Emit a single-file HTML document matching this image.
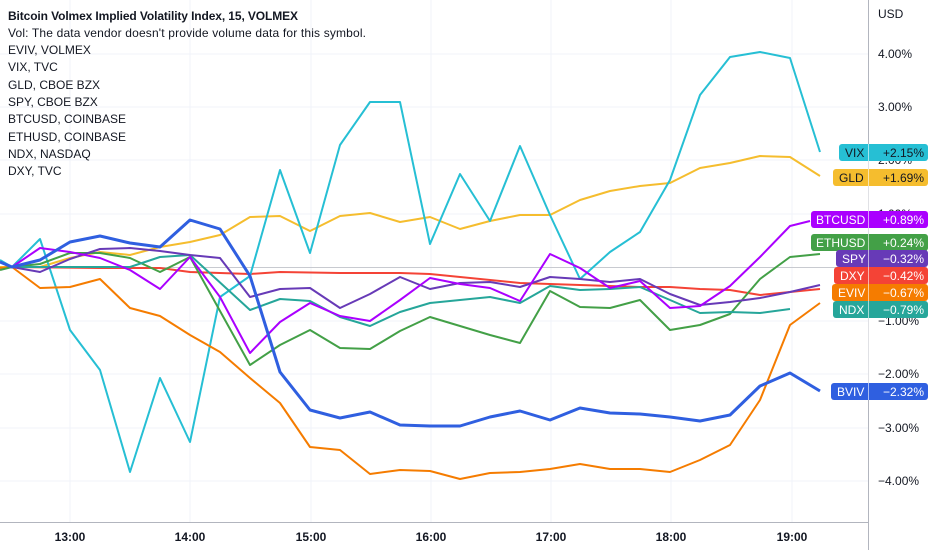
<!DOCTYPE html>
<html><head><meta charset="utf-8"><style>
html,body{margin:0;padding:0;background:#fff;}
svg{display:block;font-family:"Liberation Sans",sans-serif;}
</style></head><body>
<svg width="932" height="550" viewBox="0 0 932 550" xmlns="http://www.w3.org/2000/svg">
<rect width="932" height="550" fill="#fff"/>
<g stroke="#f0f3fa" stroke-width="1">
<line x1="0" y1="54" x2="868" y2="54"/><line x1="0" y1="107" x2="868" y2="107"/><line x1="0" y1="160" x2="868" y2="160"/><line x1="0" y1="214" x2="868" y2="214"/><line x1="0" y1="321" x2="868" y2="321"/><line x1="0" y1="374" x2="868" y2="374"/><line x1="0" y1="428" x2="868" y2="428"/><line x1="0" y1="481" x2="868" y2="481"/>
<line x1="70" y1="0" x2="70" y2="522"/><line x1="190" y1="0" x2="190" y2="522"/><line x1="311" y1="0" x2="311" y2="522"/><line x1="431" y1="0" x2="431" y2="522"/><line x1="551" y1="0" x2="551" y2="522"/><line x1="671" y1="0" x2="671" y2="522"/><line x1="792" y1="0" x2="792" y2="522"/>
</g>
<line x1="0" y1="267.5" x2="868" y2="267.5" stroke="#c8cad0" stroke-width="1"/>
<g fill="none" stroke-linejoin="round" stroke-width="2">
<polyline stroke="#f44336" points="0,268 12,267 100,268 160,268 190,272 250,274 280,272 340,273 400,273 430,274 520,283 640,287 670,287 700,289 730,290 760,295 790,292 820,289"/>
<polyline stroke="#f5bd2e" points="0,267 40,267 70,258 100,252 130,255 160,247 190,242 220,235 250,217 280,216 310,231 340,216 370,213 400,222 430,217 460,229 490,221 520,215 550,215 580,200 610,191 640,186 670,183 700,168 730,163 760,156 790,157 820,176"/>
<polyline stroke="#26bfd4" points="0,260 12,267 40,239 70,330 100,370 130,472 160,378 190,442 220,297 250,276 280,170 310,253 340,145 370,102 400,102 430,244 460,174 490,221 520,146 550,215 580,279 610,252 640,232 670,180 700,95 730,57 760,52 790,58 820,152"/>
<polyline stroke="#f57c00" points="0,268 12,267 40,288 70,287 100,279 130,308 160,316 190,335 220,352 250,378 280,403 310,447 340,450 370,474 400,470 430,471 460,479 490,473 520,472 550,469 580,464 610,469 640,469 670,472 700,460 730,445 760,400 790,325 820,303"/>
<polyline stroke="#43a047" points="0,270 12,267 40,264 70,253 100,253 130,258 160,272 190,257 250,365 280,345 310,330 340,348 370,349 400,331 430,317 460,326 490,335 520,343 550,291 580,307 610,308 640,300 670,330 700,325 730,314 760,279 790,257 820,254"/>
<polyline stroke="#26a69a" points="0,262 12,267 40,267 70,267 100,267 130,267 160,257 190,255 250,310 280,299 310,301 340,317 370,326 400,312 430,303 460,300 490,297 520,303 550,286 580,290 610,289 640,287 670,300 700,313 730,312 760,313 790,309"/>
<polyline stroke="#673ab7" points="0,262 12,267 40,272 70,259 100,249 130,248 160,251 190,255 220,258 250,297 280,289 310,288 340,308 370,294 400,277 430,289 460,283 490,282 520,287 550,277 580,279 610,282 640,279 670,294 700,305 730,302 760,298 790,292 820,285"/>
<polyline stroke="#aa00ff" points="0,262 12,267 40,248 70,252 100,258 130,270 160,289 190,257 220,297 250,353 280,322 310,303 340,316 370,321 400,300 430,278 460,284 490,288 520,301 550,254 580,268 610,288 640,281 670,308 700,306 730,286 760,257 790,226 810,221"/>
<polyline stroke="#2f5fe0" stroke-width="3" points="0,262 12,267 40,260 70,242 100,236 130,243 160,247 190,220 220,229 250,276 280,372 310,410 340,418 370,412 400,425 430,426 460,426 490,417 520,411 550,420 580,408 610,413 640,414 670,417 700,421 730,415 760,386 790,373 820,391"/>
</g>
<line x1="868.5" y1="0" x2="868.5" y2="550" stroke="#b2b5be"/>
<line x1="0" y1="522.5" x2="868" y2="522.5" stroke="#b2b5be"/>
<g font-size="12" fill="#131722">
<text x="878" y="18">USD</text>
<text x="878" y="58">4.00%</text><text x="878" y="111">3.00%</text><text x="878" y="164">2.00%</text><text x="878" y="218">1.00%</text><text x="878" y="325">−1.00%</text><text x="878" y="378">−2.00%</text><text x="878" y="432">−3.00%</text><text x="878" y="485">−4.00%</text>
</g>
<g font-size="12" fill="#131722" font-weight="bold" text-anchor="middle">
<text x="70" y="541">13:00</text><text x="190" y="541">14:00</text><text x="311" y="541">15:00</text><text x="431" y="541">16:00</text><text x="551" y="541">17:00</text><text x="671" y="541">18:00</text><text x="792" y="541">19:00</text>
</g>
<g font-size="12">
<rect x="839" y="144" width="89" height="17" rx="3" fill="#26bfd4"/><text x="845" y="157" fill="#131722">VIX</text><text x="924" y="157" fill="#131722" text-anchor="end">+2.15%</text>
<rect x="833" y="169" width="95" height="17" rx="3" fill="#f5bd2e"/><text x="839" y="182" fill="#131722">GLD</text><text x="924" y="182" fill="#131722" text-anchor="end">+1.69%</text>
<rect x="811" y="211" width="117" height="17" rx="3" fill="#aa00ff"/><text x="816" y="224" fill="#fff">BTCUSD</text><text x="924" y="224" fill="#fff" text-anchor="end">+0.89%</text>
<rect x="811" y="234" width="117" height="17" rx="3" fill="#43a047"/><text x="816" y="247" fill="#fff">ETHUSD</text><text x="924" y="247" fill="#fff" text-anchor="end">+0.24%</text>
<rect x="836" y="250" width="92" height="17" rx="3" fill="#673ab7"/><text x="842" y="263" fill="#fff">SPY</text><text x="924" y="263" fill="#fff" text-anchor="end">−0.32%</text>
<rect x="834" y="267" width="94" height="17" rx="3" fill="#f44336"/><text x="840" y="280" fill="#fff">DXY</text><text x="924" y="280" fill="#fff" text-anchor="end">−0.42%</text>
<rect x="832" y="284" width="96" height="17" rx="3" fill="#f57c00"/><text x="838" y="297" fill="#fff">EVIV</text><text x="924" y="297" fill="#fff" text-anchor="end">−0.67%</text>
<rect x="833" y="301" width="95" height="17" rx="3" fill="#26a69a"/><text x="839" y="314" fill="#fff">NDX</text><text x="924" y="314" fill="#fff" text-anchor="end">−0.79%</text>
<rect x="831" y="383" width="97" height="17" rx="3" fill="#2f5fe0"/><text x="837" y="396" fill="#fff">BVIV</text><text x="924" y="396" fill="#fff" text-anchor="end">−2.32%</text>
</g>
<g stroke="rgba(255,255,255,0.6)"><line x1="868.5" y1="144" x2="868.5" y2="400"/></g>
<g font-size="12" fill="#131722">
<text x="8" y="20" font-weight="bold" textLength="290">Bitcoin Volmex Implied Volatility Index, 15, VOLMEX</text>
<text x="8" y="37" textLength="358">Vol: The data vendor doesn't provide volume data for this symbol.</text>
<text x="8" y="54">EVIV, VOLMEX</text>
<text x="8" y="71">VIX, TVC</text>
<text x="8" y="89">GLD, CBOE BZX</text>
<text x="8" y="106">SPY, CBOE BZX</text>
<text x="8" y="123">BTCUSD, COINBASE</text>
<text x="8" y="141">ETHUSD, COINBASE</text>
<text x="8" y="158">NDX, NASDAQ</text>
<text x="8" y="175">DXY, TVC</text>
</g>
</svg>
</body></html>
